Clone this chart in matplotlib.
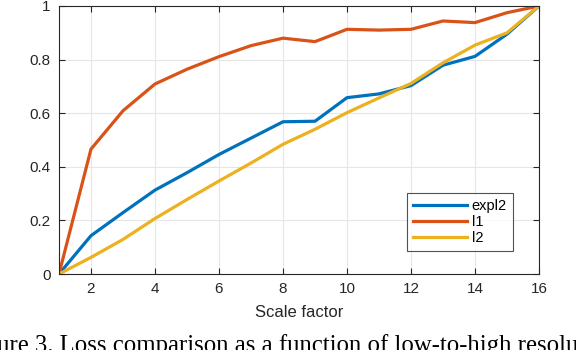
import matplotlib
matplotlib.use("Agg")
import matplotlib.pyplot as plt

scale = [1, 2, 3, 4, 5, 6, 7, 8, 9, 10, 11, 12, 13, 14, 15, 16]
expl2 = [0, 0.143, 0.229, 0.313, 0.378, 0.446, 0.507, 0.568, 0.570, 0.658, 0.672, 0.703, 0.779, 0.812, 0.895, 1.0]
l1 = [0, 0.466, 0.609, 0.709, 0.764, 0.811, 0.852, 0.880, 0.867, 0.913, 0.910, 0.913, 0.944, 0.938, 0.975, 1.0]
l2 = [0, 0.062, 0.129, 0.207, 0.278, 0.347, 0.414, 0.484, 0.540, 0.602, 0.657, 0.711, 0.788, 0.854, 0.900, 1.0]
xticks = [2, 4, 6, 8, 10, 12, 14, 16]
yticks = [0, 0.2, 0.4, 0.6, 0.8, 1]
ytick_labels = ["0", "0.2", "0.4", "0.6", "0.8", "1"]

plt.rcParams['font.family'] = ['Liberation Sans', 'DejaVu Sans']

fig = plt.figure(figsize=(5.76, 3.5), dpi=100)
ax = fig.add_axes([0.1024, 0.2171, 0.8334, 0.7658])

ax.plot(scale, expl2, color='#0072BD', lw=2.3, label='expl2')
ax.plot(scale, l1, color='#D95319', lw=2.3, label='l1')
ax.plot(scale, l2, color='#EDB120', lw=2.3, label='l2')

ax.set_xlim(1, 16)
ax.set_ylim(0, 1)
ax.set_xticks(xticks)
ax.set_yticks(yticks)
ax.set_yticklabels(ytick_labels)
ax.grid(True, color='#e6e6e6', lw=0.8)
ax.set_axisbelow(True)
ax.tick_params(direction='in', length=4, width=0.8, colors='#262626', labelsize=11,
               top=True, right=True, pad=6)
for s in ax.spines.values():
    s.set_color('#262626')
    s.set_linewidth(0.8)
ax.set_xlabel('Scale factor', fontsize=12, color='#262626', labelpad=6)

leg = ax.legend(loc='lower right', bbox_to_anchor=(0.945, 0.085), fontsize=10.5,
                frameon=True, fancybox=False, handlelength=3.7, handletextpad=0.3,
                labelspacing=0.15, borderpad=0.4, borderaxespad=0)
leg.get_frame().set_edgecolor('#262626')
leg.get_frame().set_linewidth(0.8)

fig.text(-0.0625, -0.006, 'Figure 3. Loss comparison as a function of low-to-high resolution',
         family=['Liberation Serif'], fontsize=17.8, ha='left', va='baseline', color='black')

fig.savefig('out.png', dpi=100)
